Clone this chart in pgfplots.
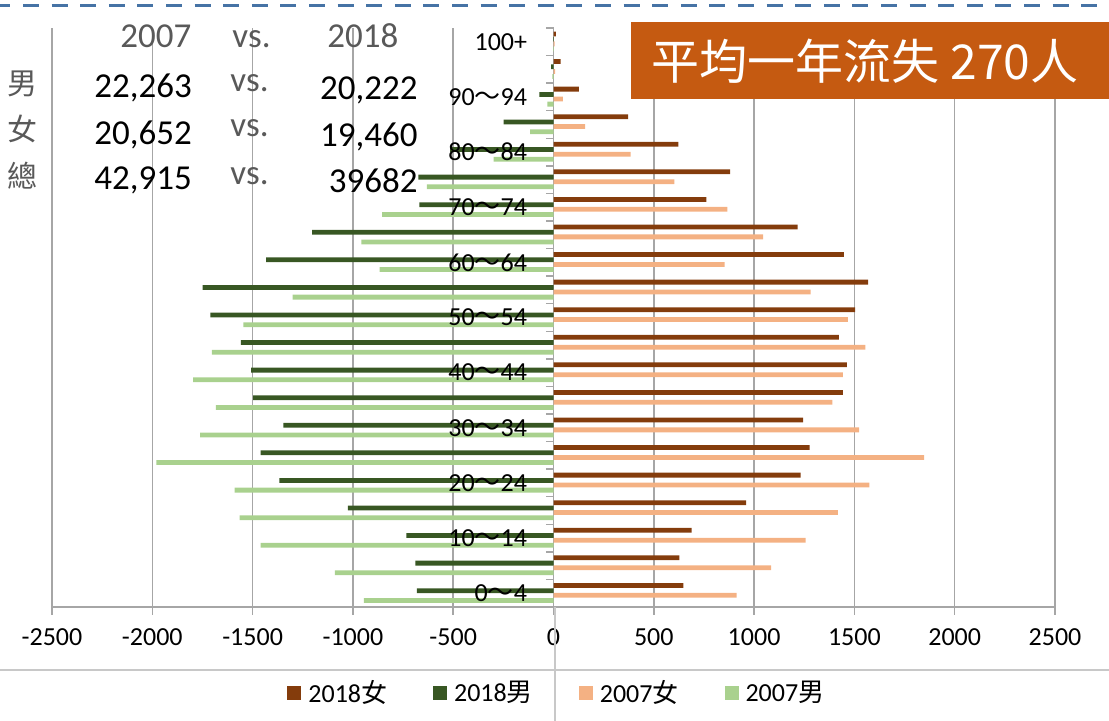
\documentclass[border=0pt]{standalone}
\usepackage{fontspec}
\setmainfont{Carlito}
\newfontfamily\cjk{Noto Sans CJK TC}
\usepackage{pgfplots}
\usepackage{pgfplotstable}
\pgfplotsset{compat=1.18}

\definecolor{fem18}{HTML}{843C0C}
\definecolor{mal18}{HTML}{385723}
\definecolor{fem07}{HTML}{F4B183}
\definecolor{mal07}{HTML}{A9D18E}
\definecolor{boxorange}{HTML}{C55A11}
\definecolor{dashblue}{HTML}{4673A5}
\definecolor{gridgray}{HTML}{A6A6A6}
\definecolor{sepgray}{HTML}{C8C8C8}
\definecolor{txtgray}{HTML}{595959}

\pgfplotsset{
  layers/barsunder/.define layer set={axis background,axis grid,main,axis ticks,axis lines,axis tick labels,axis descriptions,axis foreground}{},
}

% age group index (0 = 0~4 ... 20 = 100+)
\pgfplotstableread{
idx f18 m18 f07 m07
0 648 -681 913 -945
1 628 -688 1085 -1090
2 688 -734 1257 -1460
3 960 -1025 1417 -1565
4 1232 -1367 1575 -1590
5 1277 -1460 1847 -1980
6 1245 -1347 1523 -1762
7 1443 -1498 1390 -1683
8 1462 -1507 1443 -1796
9 1422 -1558 1555 -1703
10 1503 -1711 1468 -1546
11 1568 -1749 1282 -1301
12 1448 -1433 853 -867
13 1217 -1203 1045 -958
14 762 -669 867 -854
15 880 -673 603 -631
16 622 -515 385 -299
17 372 -249 158 -116
18 127 -70 47 -30
19 35 -12 8 -5
20 12 -2 6 -2
}\pyramid

\begin{document}
\begin{tikzpicture}
\begin{axis}[
  set layers=barsunder,
  at={(26pt,57pt)}, anchor=south west,
  scale only axis, width=501.5pt, height=289.5pt,
  xmin=-2500, xmax=2500, ymin=-0.5, ymax=20.5,
  axis x line*=bottom, axis y line*=center,
  hide obscured x ticks=false,
  axis line style={draw=gridgray, line width=0.75pt},
  xtick={-2500,-2000,-1500,-1000,-500,0,500,1000,1500,2000,2500},
  xticklabels={-2500,-2000,-1500,-1000,-500,0,500,1000,1500,2000,2500},
  xticklabel style={yshift=-5.5pt},
  xmajorgrids, major grid style={draw=gridgray, line width=0.75pt},
  tick align=center, major tick length=3.8pt,
  xtick style={draw=gridgray, line width=0.75pt, yshift=-1.9pt},
  ytick={-0.5,0.5,...,20.5}, yticklabels={},
  ytick style={draw=gridgray, line width=0.75pt, xshift=-1.9pt},
  tick label style={font=\fontsize{13}{15}\selectfont, text=black},
  legend style={at={(0.2343,-0.1485)}, anchor=west, draw=none, fill=none,
    inner sep=0pt, font=\fontsize{13}{15}\selectfont,
    nodes={inner sep=0pt},
    /tikz/every odd column/.append style={column sep=3.5pt},
    /tikz/every even column/.append style={column sep=23pt}},
  legend columns=4,
  legend image code/.code={\fill[#1] (0pt,-3.5pt) rectangle (7pt,3.5pt);},
]
\addplot[xbar, bar width=2.4pt, bar shift=3.9pt, fill=fem18, draw=none] table[x=f18, y=idx] {\pyramid};
\addlegendentry{2018{\cjk 女}}
\addplot[xbar, bar width=2.4pt, bar shift=1.25pt, fill=mal18, draw=none] table[x=m18, y=idx] {\pyramid};
\addlegendentry{2018{\cjk 男}}
\addplot[xbar, bar width=2.4pt, bar shift=-1.05pt, fill=fem07, draw=none] table[x=f07, y=idx] {\pyramid};
\addlegendentry{2007{\cjk 女}}
\addplot[xbar, bar width=2.4pt, bar shift=-3.6pt, fill=mal07, draw=none] table[x=m07, y=idx] {\pyramid};
\addlegendentry{2007{\cjk 男}}

% age group labels, set over the bars
\begin{scope}[every node/.style={anchor=east, inner sep=0pt, xshift=-13pt, font=\fontsize{13}{15}\selectfont}]
\node at (axis cs:0,0) {0{\cjk ～}4};
\node at (axis cs:0,2) {10{\cjk ～}14};
\node at (axis cs:0,4) {20{\cjk ～}24};
\node at (axis cs:0,6) {30{\cjk ～}34};
\node at (axis cs:0,8) {40{\cjk ～}44};
\node at (axis cs:0,10) {50{\cjk ～}54};
\node at (axis cs:0,12) {60{\cjk ～}64};
\node at (axis cs:0,14) {70{\cjk ～}74};
\node at (axis cs:0,16) {80{\cjk ～}84};
\node at (axis cs:0,18) {90{\cjk ～}94};
\node at (axis cs:0,20) {100+};
\end{scope}
\end{axis}

% frame lines of the slide
\draw[dashblue, line width=1.5pt, dash pattern=on 8pt off 6.3pt, dash phase=2.8pt] (0pt,357.5pt) -- (554.5pt,357.5pt);
\draw[sepgray, line width=0.7pt] (0pt,25.5pt) -- (554.5pt,25.5pt);
\draw[sepgray, line width=0.7pt] (277.5pt,0pt) -- (277.5pt,57pt);

% title box
\fill[boxorange] (315.5pt,311pt) rectangle (554.5pt,349.5pt);
\node[text=white, inner sep=0pt, font=\cjk\fontsize{24}{26}\selectfont] at (432.5pt,330pt) {平均一年流失 270人};

% totals table
\begin{scope}[every node/.style={inner sep=0pt, font=\fontsize{17.5}{19}\selectfont}]
\node[anchor=base west, text=txtgray] at (60pt,336.5pt) {2007};
\node[anchor=base west, text=txtgray] at (116pt,336.5pt) {vs.};
\node[anchor=base west, text=txtgray] at (163.5pt,336.5pt) {2018};
\node[text=txtgray, font=\cjk\fontsize{15}{17}\selectfont] at (11.5pt,318.5pt) {男};
\node[text=txtgray, font=\cjk\fontsize{15}{17}\selectfont] at (11.5pt,296pt) {女};
\node[text=txtgray, font=\cjk\fontsize{15}{17}\selectfont] at (11.5pt,272.5pt) {總};
\node[anchor=base west] at (47pt,311.5pt) {22,263};
\node[anchor=base west, text=txtgray] at (115pt,314.5pt) {vs.};
\node[anchor=base east] at (209pt,310.5pt) {20,222};
\node[anchor=base west] at (47pt,288pt) {20,652};
\node[anchor=base west, text=txtgray] at (115pt,292pt) {vs.};
\node[anchor=base east] at (209pt,287pt) {19,460};
\node[anchor=base west] at (47pt,265.5pt) {42,915};
\node[anchor=base west, text=txtgray] at (115pt,268pt) {vs.};
\node[anchor=base east] at (209pt,264pt) {39682};
\end{scope}

\pgfresetboundingbox
\useasboundingbox (0pt,0pt) rectangle (554.5pt,360.5pt);
\end{tikzpicture}
\end{document}
